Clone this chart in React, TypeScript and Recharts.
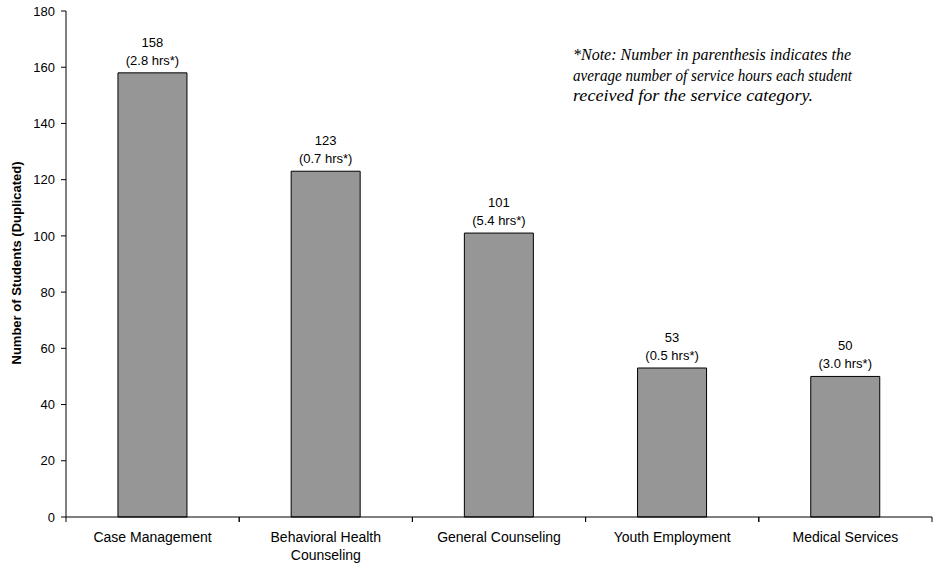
import React from "react";
import { BarChart, Bar, XAxis, YAxis, LabelList } from "recharts";

const categories = [
  "Case Management",
  "Behavioral Health Counseling",
  "General Counseling",
  "Youth Employment",
  "Medical Services",
];
const students = [158, 123, 101, 53, 50];
const avgHours = [2.8, 0.7, 5.4, 0.5, 3.0];
const yTicks = [0, 20, 40, 60, 80, 100, 120, 140, 160, 180];
const yAxisTitle = "Number of Students (Duplicated)";
const noteLines = [
  "*Note: Number in parenthesis indicates the",
  "average number of service hours each student",
  "received for the service category.",
];
const noteLineWidths = [278, 279, 240];

const data = categories.map((name, i) => ({
  name,
  students: students[i],
  hours: avgHours[i],
}));

const FONT = "Arial, 'Liberation Sans', Helvetica, sans-serif";
const SERIF = "'Liberation Serif', 'DejaVu Serif', serif";

// Category label centred in its band, with tick marks at the band edges.
const CategoryTick = (props: any) => {
  const { x, y, payload, width, visibleTicksCount } = props;
  const band = width / visibleTicksCount;
  const axisY = y - 8;
  const words: string[] = String(payload.value).split(" ");
  const lines =
    words.length > 2 && String(payload.value).length > 20
      ? [words.slice(0, 2).join(" "), words.slice(2).join(" ")]
      : [payload.value];
  return (
    <g>
      <line x1={x - band / 2} x2={x - band / 2} y1={axisY} y2={axisY + 5} stroke="#000" />
      <line x1={x + band / 2} x2={x + band / 2} y1={axisY} y2={axisY + 5} stroke="#000" />
      {lines.map((l, i) => (
        <text
          key={i}
          x={x}
          y={axisY + 25 + i * 18}
          textAnchor="middle"
          fontSize={14}
          fontFamily={FONT}
          fill="#000"
        >
          {l}
        </text>
      ))}
    </g>
  );
};

const BarValueLabel = (props: any) => {
  const { x, y, width, index } = props;
  const cx = x + width / 2;
  return (
    <g>
      <text x={cx} y={y - 26} textAnchor="middle" fontSize={13} fontFamily={FONT} fill="#000">
        {students[index]}
      </text>
      <text x={cx} y={y - 8} textAnchor="middle" fontSize={13} fontFamily={FONT} fill="#000">
        {`(${avgHours[index].toFixed(1)} hrs*)`}
      </text>
    </g>
  );
};

export default function App() {
  return (
    <div style={{ position: "absolute", left: 0, top: 0, width: 941, height: 563, background: "#fff" }}>
      <BarChart
        width={941}
        height={563}
        data={data}
        margin={{ top: 11, right: 9, bottom: 0, left: 16 }}
        barCategoryGap="30%"
      >
        <XAxis
          dataKey="name"
          height={46}
          axisLine={{ stroke: "#000" }}
          tickLine={false}
          interval={0}
          tick={<CategoryTick />}
        />
        <YAxis
          width={50}
          domain={[0, 180]}
          ticks={yTicks}
          interval={0}
          axisLine={{ stroke: "#000" }}
          tickLine={{ stroke: "#000" }}
          tickSize={5}
          tickMargin={6}
          tick={{ fontSize: 13, fontFamily: FONT, fill: "#000" }}
        />
        <Bar dataKey="students" fill="#969696" stroke="#000" strokeWidth={1} isAnimationActive={false}>
          <LabelList dataKey="students" content={<BarValueLabel />} />
        </Bar>
        <text
          x={16}
          y={263}
          transform="rotate(-90, 16, 263)"
          textAnchor="middle"
          dominantBaseline="central"
          fontSize={13}
          fontWeight="bold"
          fontFamily={FONT}
          fill="#000"
        >
          {yAxisTitle}
        </text>
        {noteLines.map((l, i) => (
          <text
            key={i}
            x={573}
            y={60 + i * 20.5}
            fontSize={17}
            fontStyle="italic"
            fontFamily={SERIF}
            fill="#000"
            textLength={noteLineWidths[i]}
            lengthAdjust="spacingAndGlyphs"
          >
            {l}
          </text>
        ))}
      </BarChart>
    </div>
  );
}
